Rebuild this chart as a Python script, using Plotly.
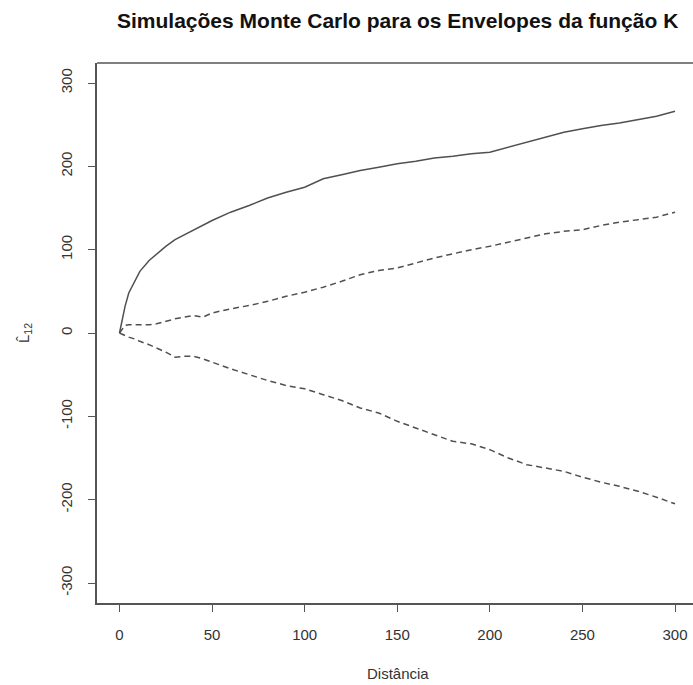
import plotly.graph_objects as go

# Distance grid and the three curves of the L12 cross-function envelope plot
distancia = [0, 3, 5, 8, 11, 16, 20, 25, 30, 35, 40, 45, 50, 60, 70, 80, 90,
             100, 110, 120, 130, 140, 150, 160, 170, 180, 190, 200, 210, 220,
             230, 240, 250, 260, 270, 280, 290, 300]

l12_observado = [0, 32, 48, 62, 74, 87, 95, 104, 112, 118, 123, 130, 135, 145,
                 153, 162, 169, 175, 185, 190, 195, 199, 203, 206, 210, 212,
                 215, 217, 223, 229, 235, 241, 245, 249, 252, 256, 260, 266]

envelope_superior = [0, 9, 10, 10, 10, 10, 11, 14, 17, 19, 21, 19, 24, 29, 33,
                     38, 44, 49, 55, 62, 70, 75, 78, 84, 90, 95, 100, 104, 109,
                     114, 119, 122, 124, 129, 133, 136, 139, 145]

envelope_inferior = [0, -3, -5, -7, -10, -14, -18, -23, -29, -28, -28, -31, -35,
                     -43, -50, -57, -63, -67, -74, -81, -90, -96, -106, -114,
                     -122, -130, -133, -140, -150, -158, -162, -166, -173, -179,
                     -184, -190, -197, -205]

x_ticks = [0, 50, 100, 150, 200, 250, 300]
y_ticks = [-300, -200, -100, 0, 100, 200, 300]
y_tick_text = ["-300", "-200", "-100", "0", "100", "200", "300"]

titulo = "Simulações Monte Carlo para os Envelopes da função K"
rotulo_x = "Distância"
rotulo_y = "L\u0302<sub>12</sub>"

FONT = "Liberation Sans, Arial, sans-serif"
LINE = "#505050"
AXIS = "#555555"
TEXT = "#333333"

fig = go.Figure()
fig.add_trace(go.Scatter(x=distancia, y=l12_observado, mode="lines",
                         line=dict(color=LINE, width=1.5)))
fig.add_trace(go.Scatter(x=distancia, y=envelope_superior, mode="lines",
                         line=dict(color=LINE, width=1.5, dash="6px,4px")))
fig.add_trace(go.Scatter(x=distancia, y=envelope_inferior, mode="lines",
                         line=dict(color=LINE, width=1.5, dash="6px,4px")))

fig.update_layout(
    width=693, height=685,
    margin=dict(l=97, r=0, t=63, b=82),
    paper_bgcolor="white", plot_bgcolor="white",
    showlegend=False,
    font=dict(family=FONT, size=15, color=TEXT),
    xaxis=dict(range=[-12.15, 309.7], tickvals=x_ticks, showgrid=False,
               zeroline=False, showline=True, linecolor=AXIS, linewidth=1.5,
               ticks="outside", ticklen=7, tickwidth=1.2, tickcolor=AXIS,
               ticklabelstandoff=10, tickfont=dict(size=15, color=TEXT)),
    yaxis=dict(range=[-324, 324], tickvals=y_ticks, ticktext=y_tick_text,
               showgrid=False, zeroline=False, showline=True, linecolor=AXIS,
               linewidth=1.5, ticks="outside", ticklen=7, tickwidth=1.2,
               tickcolor=AXIS, tickangle=-90, ticklabelstandoff=10,
               tickfont=dict(size=15, color=TEXT)),
    shapes=[dict(type="line", xref="paper", yref="paper", x0=0, x1=1.01,
                 y0=1, y1=1, line=dict(color=AXIS, width=1.5))],
    annotations=[
        dict(text="<b>" + titulo + "</b>", xref="paper", yref="paper",
             x=0.505, y=1, yshift=43, xanchor="center", yanchor="middle",
             showarrow=False, font=dict(size=21, color="#111111")),
        dict(text=rotulo_x, xref="paper", yref="paper", x=0.505, y=0,
             yshift=-70, xanchor="center", yanchor="middle", showarrow=False,
             font=dict(size=15, color=TEXT)),
        dict(text=rotulo_y, xref="paper", yref="paper", x=0, y=0.5,
             xshift=-73, xanchor="center", yanchor="middle", textangle=-90,
             showarrow=False, font=dict(size=15, color=TEXT)),
    ],
)

fig.write_html("out.html")
